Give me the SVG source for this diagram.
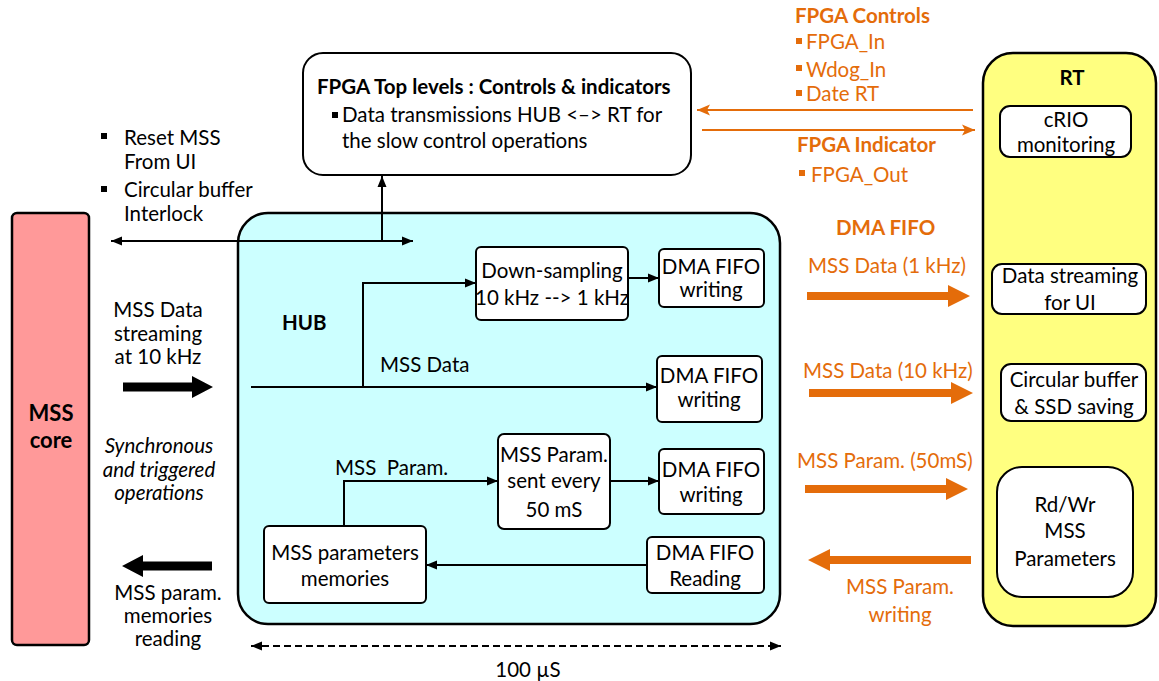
<svg xmlns="http://www.w3.org/2000/svg" width="1159" height="681" viewBox="0 0 1159 681">
<defs>
<style>
text{font-family:Lato,"Liberation Sans",sans-serif;font-size:20.5px;fill:#000}
.b{font-weight:bold}
.o{fill:#E46C0A}
.c{text-anchor:middle}
.i{font-style:italic}
.box{fill:#fff;stroke:#000;stroke-width:2}
.ln{fill:none;stroke:#000;stroke-width:2}
.ol{fill:none;stroke:#E46C0A;stroke-width:2}
.bk{fill:#000}
.ob{fill:#E46C0A}
</style>
<marker id="ah" markerUnits="userSpaceOnUse" markerWidth="12" markerHeight="10" refX="11" refY="5" orient="auto"><path d="M0,0.5 L11,5 L0,9.5z" fill="#000"/></marker>
<marker id="ahs" markerUnits="userSpaceOnUse" markerWidth="12" markerHeight="10" refX="11" refY="5" orient="auto-start-reverse"><path d="M0,0.5 L11,5 L0,9.5z" fill="#000"/></marker>
<marker id="oh" markerUnits="userSpaceOnUse" markerWidth="14" markerHeight="12" refX="13" refY="6" orient="auto"><path d="M0,0.5 L13,6 L0,11.5 L3,6z" fill="#E46C0A"/></marker>
</defs>
<rect width="1159" height="681" fill="#fff"/>

<g id="mss-core">
<rect x="12" y="213" width="77" height="432" rx="5" fill="#FF9999" stroke="#000" stroke-width="2.5"/>
<text class="b c" x="51" y="421" style="font-size:22px">MSS</text>
<text class="b c" x="51" y="448" style="font-size:22px">core</text>
</g>

<g id="hub">
<rect x="238" y="213" width="542" height="411" rx="30" fill="#CCFFFF" stroke="#000" stroke-width="2.5"/>
<text class="b" x="282" y="330">HUB</text>
</g>

<g id="fpga-top">
<rect x="303" y="53" width="388" height="122" rx="20" class="box" stroke-width="2.5"/>
<text class="b" x="317" y="94">FPGA Top levels : Controls &amp; indicators</text>
<rect x="332" y="112" width="6" height="6" class="bk"/>
<text x="342" y="122">Data transmissions HUB &lt;–&gt; RT for</text>
<text x="342" y="148">the slow control operations</text>
</g>

<g id="rt">
<rect x="983" y="53" width="173" height="573" rx="30" fill="#FFFF80" stroke="#000" stroke-width="2.5"/>
<text class="b c" x="1072" y="85">RT</text>
</g>

<g id="crio">
<rect x="1000" y="106" width="131" height="51" rx="10" class="box"/>
<text class="c" x="1066" y="127">cRIO</text>
<text class="c" x="1066" y="152">monitoring</text>
</g>

<g id="data-streaming">
<rect x="992" y="264" width="154" height="50" rx="10" class="box"/>
<text class="c" x="1070" y="283">Data streaming</text>
<text class="c" x="1070" y="310">for UI</text>
</g>

<g id="circular-buffer">
<rect x="1001" y="364" width="145" height="57" rx="10" class="box"/>
<text class="c" x="1074" y="387">Circular buffer</text>
<text class="c" x="1074" y="414">&amp; SSD saving</text>
</g>

<g id="rdwr-params">
<rect x="997" y="467" width="136" height="130" rx="25" class="box"/>
<text class="c" x="1065" y="512">Rd/Wr</text>
<text class="c" x="1065" y="538">MSS</text>
<text class="c" x="1065" y="566">Parameters</text>
</g>

<g id="down-sampling">
<rect x="476" y="247" width="152" height="73" rx="5" class="box"/>
<text class="c" x="552" y="278">Down-sampling</text>
<text class="c" x="552" y="305">10 kHz --&gt; 1 kHz</text>
</g>

<g id="dma-write-1">
<rect x="659" y="249" width="105" height="58" rx="5" class="box"/>
<text class="c" x="711" y="274">DMA FIFO</text>
<text class="c" x="711" y="297">writing</text>
</g>

<g id="dma-write-2">
<rect x="657" y="356" width="105" height="66" rx="5" class="box"/>
<text class="c" x="709" y="383">DMA FIFO</text>
<text class="c" x="709" y="407">writing</text>
</g>

<g id="param-sent">
<rect x="498" y="434" width="112" height="95" rx="6" class="box"/>
<text class="c" x="554" y="462">MSS Param.</text>
<text class="c" x="554" y="488">sent every</text>
<text class="c" x="554" y="517">50 mS</text>
</g>

<g id="dma-write-3">
<rect x="659" y="449" width="105" height="65" rx="5" class="box"/>
<text class="c" x="711" y="477">DMA FIFO</text>
<text class="c" x="711" y="502">writing</text>
</g>

<g id="param-memories">
<rect x="264" y="526" width="162" height="77" rx="5" class="box"/>
<text class="c" x="345" y="560">MSS parameters</text>
<text class="c" x="345" y="586">memories</text>
</g>

<g id="dma-read">
<rect x="647" y="537" width="117" height="56" rx="5" class="box"/>
<text class="c" x="705" y="560">DMA FIFO</text>
<text class="c" x="705" y="586">Reading</text>
</g>

<g id="labels-left">
<rect x="101" y="133" width="6" height="6" class="bk"/>
<text x="124" y="145">Reset MSS</text>
<text x="124" y="169">From UI</text>
<rect x="101" y="186" width="6" height="6" class="bk"/>
<text x="124" y="197">Circular buffer</text>
<text x="124" y="221">Interlock</text>
<text class="c" x="158" y="317">MSS Data</text>
<text class="c" x="158" y="341">streaming</text>
<text class="c" x="158" y="364">at 10 kHz</text>
<text class="c i" x="159" y="453">Synchronous</text>
<text class="c i" x="159" y="477">and triggered</text>
<text class="c i" x="159" y="500">operations</text>
<text class="c" x="168" y="600">MSS param.</text>
<text class="c" x="168" y="623">memories</text>
<text class="c" x="168" y="646">reading</text>
<text x="380" y="372">MSS Data</text>
<text x="335" y="475" xml:space="preserve">MSS  Param.</text>
<text class="c" x="528" y="677">100 µS</text>
</g>

<g id="labels-orange">
<text class="b o" x="795" y="23">FPGA Controls</text>
<rect x="796" y="38" width="6" height="6" class="ob"/>
<text class="o" x="806" y="49">FPGA_In</text>
<rect x="796" y="65" width="6" height="6" class="ob"/>
<text class="o" x="806" y="77">Wdog_In</text>
<rect x="796" y="90" width="6" height="6" class="ob"/>
<text class="o" x="806" y="101">Date RT</text>
<text class="b o" x="797" y="152">FPGA Indicator</text>
<rect x="799" y="170" width="6" height="6" class="ob"/>
<text class="o" x="811" y="182">FPGA_Out</text>
<text class="b o" x="836" y="235">DMA FIFO</text>
<text class="o" x="808" y="273">MSS Data (1 kHz)</text>
<text class="o" x="803" y="378">MSS Data (10 kHz)</text>
<text class="o" x="797" y="468">MSS Param. (50mS)</text>
<text class="o c" x="900" y="594">MSS Param.</text>
<text class="o c" x="900" y="622">writing</text>
</g>

<g id="connectors">
<path class="ln" d="M382,241 V176" marker-end="url(#ah)"/>
<path class="ln" d="M111,241 H413" marker-start="url(#ahs)" marker-end="url(#ahs)"/>
<path class="ln" d="M251,387 H657" marker-end="url(#ah)"/>
<path class="ln" d="M363,387 V283 H476" marker-end="url(#ah)"/>
<path class="ln" d="M628,278 H659" marker-end="url(#ah)"/>
<path class="ln" d="M344,526 V481 H498" marker-end="url(#ah)"/>
<path class="ln" d="M610,481 H659" marker-end="url(#ah)"/>
<path class="ln" d="M647,565 H426" marker-end="url(#ah)"/>
<path class="ln" d="M251,646 H781" stroke-dasharray="7 4" stroke-width="1.8" marker-start="url(#ahs)" marker-end="url(#ahs)"/>
<path class="ol" d="M973,110 H697" marker-end="url(#oh)"/>
<path class="ol" d="M702,130 H975" marker-end="url(#oh)"/>
<polygon class="bk" points="123,382.5 192,382.5 192,376 213,387 192,398 192,391.5 123,391.5"/>
<polygon class="bk" points="212,561.5 143,561.5 143,555 122,566 143,577 143,570.5 212,570.5"/>
<polygon class="ob" points="807,292 948,292 948,285 970,296 948,307 948,300 807,300"/>
<polygon class="ob" points="809,389 951,389 951,382 973,393 951,404 951,397 809,397"/>
<polygon class="ob" points="805,485 946,485 946,478 968,489 946,500 946,493 805,493"/>
<polygon class="ob" points="971,556 830,556 830,549 808,560 830,571 830,564 971,564"/>
</g>
</svg>
